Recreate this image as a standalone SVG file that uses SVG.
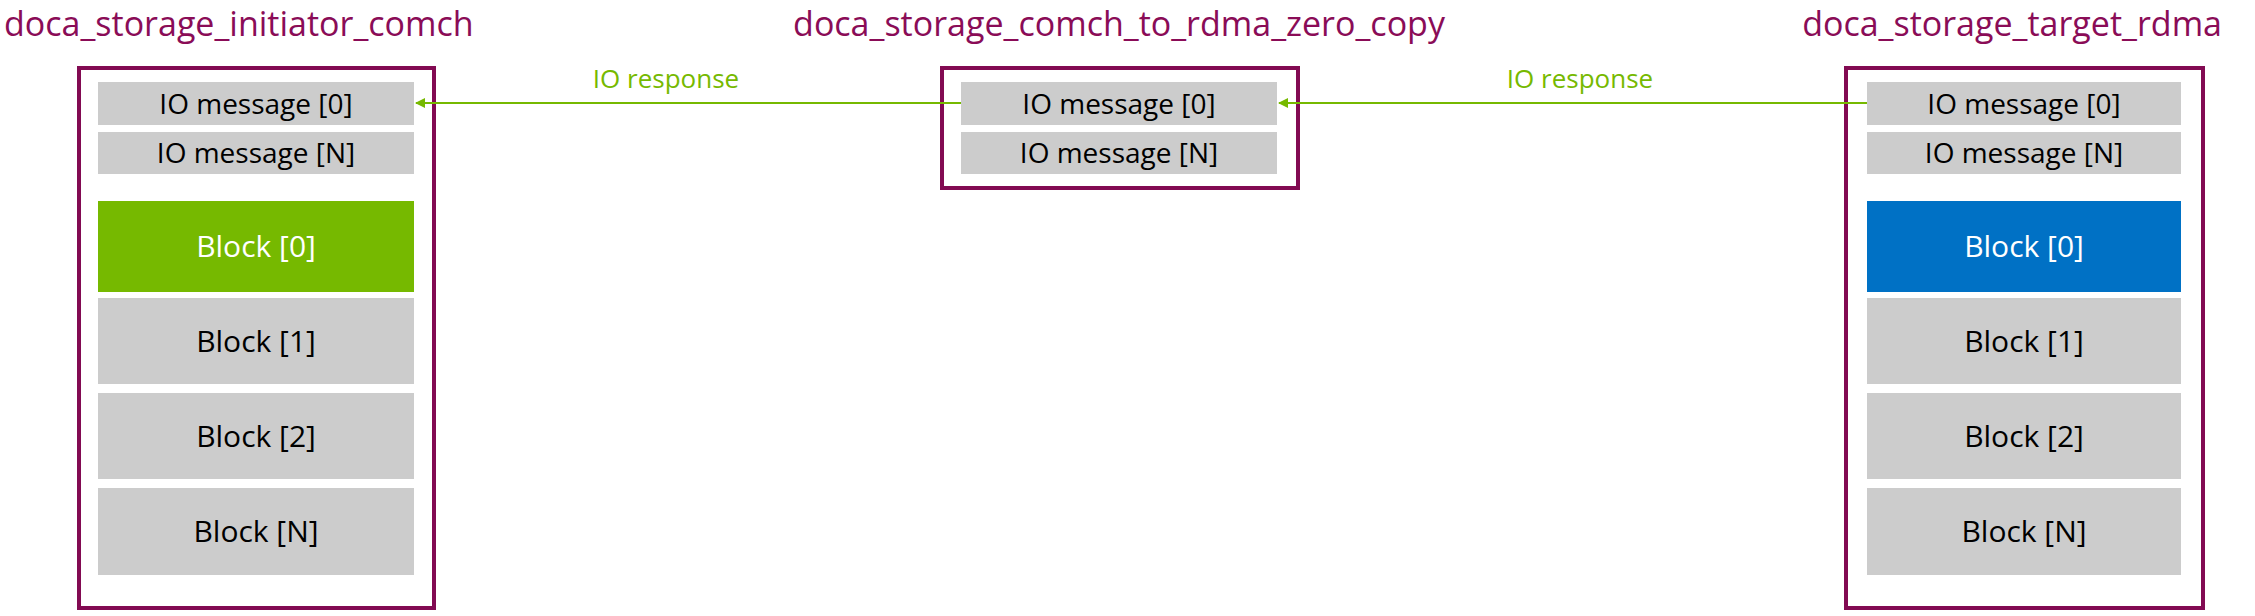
<svg xmlns="http://www.w3.org/2000/svg" width="2255" height="616" viewBox="0 0 2255 616">
<style>
text{font-family:"Open Sans","Noto Sans",sans-serif;text-anchor:middle}
.title{fill:#8a0c57;font-size:34px}
.box{fill:#fff;stroke:#820a52;stroke-width:4}
.g{fill:#cccccc}
.t{fill:#000;font-size:28px}
.b{font-size:30px}
.lbl{fill:#76b900;font-size:26px}
.c{stroke:#76b900;stroke-width:2;fill:none;marker-end:url(#ah)}
</style>
<defs><marker id="ah" viewBox="0 0 10 10" refX="9" refY="5" markerWidth="5" markerHeight="5" orient="auto"><path d="M10,0L0,5L10,10z" transform="rotate(180 5 5)" fill="#76b900"/></marker></defs>
<rect width="2255" height="616" fill="#fff"/>
<g id="initiator">
<text class="title" x="4" y="36" style="text-anchor:start">doca_storage_initiator_comch</text>
<rect class="box" x="79" y="68" width="355" height="540"/>
<rect class="g" x="98" y="82" width="316" height="43"/><text class="t" x="256" y="114">IO message [0]</text>
<rect class="g" x="98" y="132" width="316" height="42"/><text class="t" x="256" y="163">IO message [N]</text>
<rect fill="#76b900" x="98" y="201" width="316" height="91"/><text class="t b" x="256" y="257" fill="#fff" style="fill:#fff">Block [0]</text>
<rect class="g" x="98" y="298" width="316" height="86"/><text class="t b" x="256" y="352">Block [1]</text>
<rect class="g" x="98" y="393" width="316" height="86"/><text class="t b" x="256" y="447">Block [2]</text>
<rect class="g" x="98" y="488" width="316" height="87"/><text class="t b" x="256" y="542">Block [N]</text>
</g>
<g id="zerocopy">
<text class="title" x="1119" y="36">doca_storage_comch_to_rdma_zero_copy</text>
<rect class="box" x="942" y="68" width="356" height="120"/>
<rect class="g" x="961" y="82" width="316" height="43"/><text class="t" x="1119" y="114">IO message [0]</text>
<rect class="g" x="961" y="132" width="316" height="42"/><text class="t" x="1119" y="163">IO message [N]</text>
</g>
<g id="target">
<text class="title" x="2222" y="36" style="text-anchor:end">doca_storage_target_rdma</text>
<rect class="box" x="1846" y="68" width="357" height="540"/>
<rect class="g" x="1867" y="82" width="314" height="43"/><text class="t" x="2024" y="114">IO message [0]</text>
<rect class="g" x="1867" y="132" width="314" height="42"/><text class="t" x="2024" y="163">IO message [N]</text>
<rect fill="#0071c5" x="1867" y="201" width="314" height="91"/><text class="t b" x="2024" y="257" style="fill:#fff">Block [0]</text>
<rect class="g" x="1867" y="298" width="314" height="86"/><text class="t b" x="2024" y="352">Block [1]</text>
<rect class="g" x="1867" y="393" width="314" height="86"/><text class="t b" x="2024" y="447">Block [2]</text>
<rect class="g" x="1867" y="488" width="314" height="87"/><text class="t b" x="2024" y="542">Block [N]</text>
</g>
<g id="connectors">
<path class="c" d="M961,103H416"/>
<text class="lbl" x="666" y="88">IO response</text>
<path class="c" d="M1867,103H1279"/>
<text class="lbl" x="1580" y="88">IO response</text>
</g>
</svg>
